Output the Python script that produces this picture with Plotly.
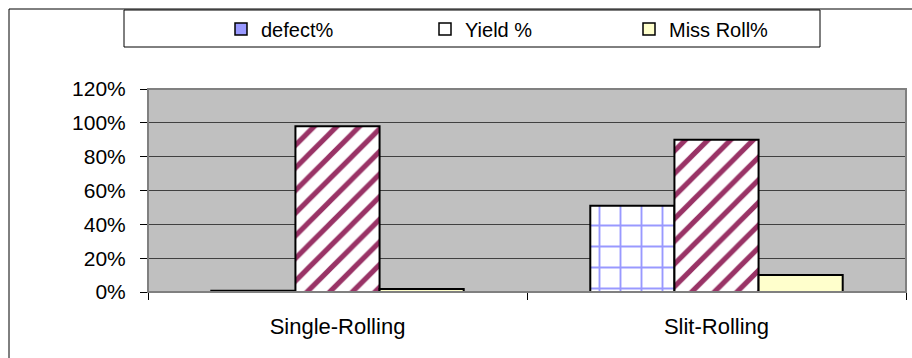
import plotly.graph_objects as go

categories = ["Single-Rolling", "Slit-Rolling"]
defect = [0.008, 0.51]
yield_pct = [0.98, 0.90]
miss_roll = [0.018, 0.10]
series_names = ["defect%", "Yield %", "Miss Roll%"]

W, H = 912, 358
L, R, T, B = 148, 6, 89, 66
pw, ph = W - L - R, H - T - B


def px_x(x):
    return (x - L) / pw


def px_y(y):
    return (H - B - y) / ph


font = "Liberation Sans, Arial, sans-serif"
outline = dict(color="black", width=2)

fig = go.Figure()

fig.add_trace(go.Bar(
    x=categories, y=defect, name=series_names[0], showlegend=False, offsetgroup="d",
    marker=dict(color="white", line=outline,
                pattern=dict(shape="+", fgcolor="#9999FF", bgcolor="white",
                             size=21, solidity=0.17, fillmode="replace", fgopacity=1)),
))
fig.add_trace(go.Bar(
    x=categories, y=yield_pct, name=series_names[1], showlegend=False, offsetgroup="y",
    marker=dict(color="white", line=outline,
                pattern=dict(shape="/", fgcolor="#993366", bgcolor="white",
                             size=16, solidity=0.32, fillmode="replace", fgopacity=1)),
))
fig.add_trace(go.Bar(
    x=categories, y=miss_roll, name=series_names[2], showlegend=False, offsetgroup="m",
    marker=dict(color="#FFFFCC", line=outline),
))

# legend keys with solid swatches (share slots with the real series)
legend_colors = ["#9999FF", "white", "#FFFFCC"]
for name, col, grp in zip(series_names, legend_colors, ["d", "y", "m"]):
    fig.add_trace(go.Bar(x=[None], y=[None], name=name, offsetgroup=grp,
                         marker=dict(color=col, line=dict(color="black", width=1.5))))

fig.update_layout(
    width=W, height=H,
    margin=dict(l=L, r=R, t=T, b=B, autoexpand=False),
    paper_bgcolor="white",
    plot_bgcolor="#C0C0C0",
    barmode="group",
    bargap=0.334,
    bargroupgap=0,
    font=dict(family=font, size=21, color="black"),
    legend=dict(
        orientation="h",
        x=px_x(221), xanchor="left",
        y=px_y(29), yanchor="middle",
        entrywidth=159, entrywidthmode="pixels",
        bgcolor="rgba(0,0,0,0)", borderwidth=0,
        font=dict(family=font, size=20, color="black"),
        itemclick=False,
    ),
    xaxis=dict(
        showline=True, linecolor="black", linewidth=1,
        ticks="outside", ticklen=7, tickcolor="black", tickson="boundaries",
        ticklabelstandoff=15,
        tickfont=dict(size=22),
        showgrid=False,
    ),
    yaxis=dict(
        range=[0, 1.2], dtick=0.2, tickformat=".0%",
        showline=True, linecolor="black", linewidth=1,
        ticks="outside", ticklen=7, tickcolor="black",
        ticklabelstandoff=10,
        tickfont=dict(size=21),
        showgrid=True, gridcolor="#404040", gridwidth=1,
        zeroline=False,
    ),
    shapes=[
        # plot area frame
        dict(type="rect", xref="paper", yref="paper", x0=0, x1=1, y0=0, y1=1,
             line=dict(color="#808080", width=2), layer="above"),
        # legend box
        dict(type="rect", xref="paper", yref="paper",
             x0=px_x(124), x1=px_x(820), y0=px_y(47), y1=px_y(10),
             line=dict(color="black", width=1), fillcolor="white", layer="below"),
        # chart area border
        dict(type="rect", xref="paper", yref="paper",
             x0=px_x(9), x1=px_x(930), y0=px_y(380), y1=px_y(9),
             line=dict(color="black", width=1)),
    ],
)

fig.write_html("out.html")
